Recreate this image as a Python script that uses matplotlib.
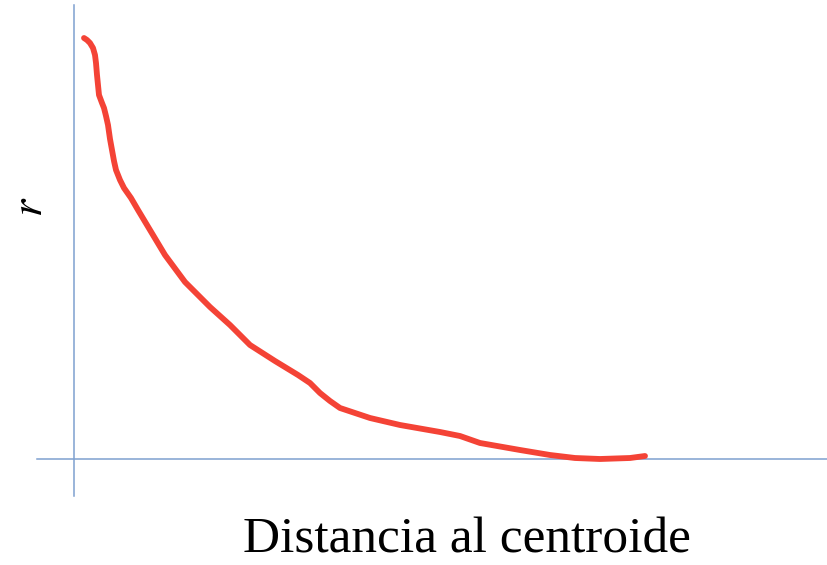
import numpy as np
import matplotlib.pyplot as plt

plt.rcParams['mathtext.fontset'] = 'stix'

# curve (origin at the axes crossing)
dist = [10, 13, 16, 19, 21, 22, 23, 25, 28, 30, 32, 34, 36, 38, 40, 42, 46, 50,
        57, 64, 76, 91, 111, 136, 156, 176, 201, 224, 236, 246, 256, 266, 296,
        326, 366, 386, 406, 446, 476, 501, 526, 556, 571]
r = [421, 419, 416, 411, 404, 396, 384, 364, 356, 351, 343, 334, 320, 309, 298,
     289, 279, 271, 261, 249, 229, 204, 177, 152, 134, 114, 98, 84, 76, 66, 58,
     51, 41, 34, 27, 23, 16, 9, 4, 1, 0, 1, 3]

fig = plt.figure(figsize=(8.27, 5.65), dpi=100)
ax = fig.add_axes([0, 0, 1, 1])
ax.set_xlim(-74, 753)
ax.set_ylim(-106, 459)
ax.axis('off')

# hand-drawn axes
axis_color = '#7fa0d0'
ax.plot([0, 0], [-37, 454], color=axis_color, lw=1.1)
ax.plot([-37, 753], [0, 0], color=axis_color, lw=1.1)

ax.plot(dist, r, color='#f44336', lw=4.2, solid_capstyle='round',
        solid_joinstyle='round')

ax.text(393, -81, 'Distancia al centroide', family='Liberation Serif',
        fontsize=37, ha='center', va='center')
ax.text(-44, 252, '$r$', fontsize=32, rotation=90, ha='center', va='center')

fig.savefig('out.png', dpi=100)
